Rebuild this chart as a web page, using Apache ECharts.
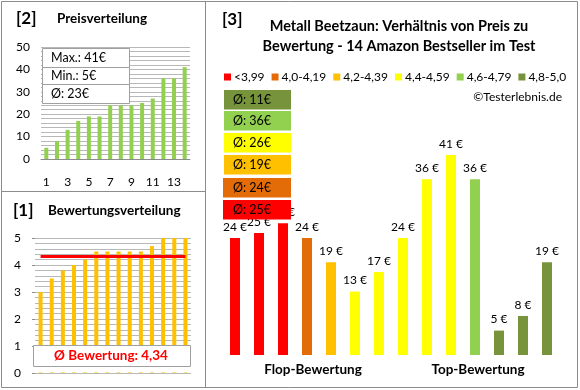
<!DOCTYPE html>
<html><head><meta charset="utf-8">
<script src="https://cdn.jsdelivr.net/npm/echarts@6/dist/echarts.min.js"></script>
<style>html,body{margin:0;padding:0;background:#fff}#c{width:580px;height:390px}</style>
</head><body><div id="c"></div>
<script>
// ---- data ----
const rankCats = ['1','2','3','4','5','6','7','8','9','10','11','12','13','14'];
const pricesSorted = [5, 8, 13, 17, 19, 19, 24, 24, 24, 25, 27, 36, 36, 41];
const ratingsSorted = [3.0, 3.5, 3.8, 4.0, 4.2, 4.5, 4.5, 4.5, 4.5, 4.5, 4.7, 5.0, 5.0, 5.0];
const ratingAvg = 4.34;
const priceInfo = ['Max.: 41€', 'Min.: 5€', 'Ø: 23€'];
const productPrices = [24, 25, 27, 24, 19, 13, 17, 24, 36, 41, 36, 5, 8, 19];
const productGroup = [0, 0, 0, 1, 2, 3, 3, 3, 3, 3, 4, 5, 5, 5];
const groupNames = ['<3,99', '4,0-4,19', '4,2-4,39', '4,4-4,59', '4,6-4,79', '4,8-5,0'];
const groupAvg = ['Ø: 25€', 'Ø: 24€', 'Ø: 19€', 'Ø: 26€', 'Ø: 36€', 'Ø: 11€'];
const groupColors = ['#FF0000', '#E36C09', '#FFC000', '#FFFF00', '#92D050', '#77933C'];

const FONT = 'Lato, "Liberation Sans", sans-serif';
const chart = echarts.init(document.getElementById('c'));
const gridColor = '#b8b8b8';

const groupSeries = groupNames.map((name, g) => ({
  name, type: 'bar', xAxisIndex: 2, yAxisIndex: 2, stack: 'p',
  barWidth: 10,
  itemStyle: { color: groupColors[g] },
  label: { show: true, position: 'top', distance: 5, formatter: '{c} €', color: '#000', fontSize: 12, fontFamily: FONT },
  data: productPrices.map((v, i) => productGroup[i] === g ? v : '-')
}));

const graphics = [];
// panel borders
graphics.push({ type: 'rect', shape: { x: 1.5, y: 1.5, width: 576, height: 386 }, style: { fill: 'none', stroke: '#8c8c8c', lineWidth: 1 }, z: 200 });
graphics.push({ type: 'line', shape: { x1: 205.5, y1: 1, x2: 205.5, y2: 388 }, style: { stroke: '#8c8c8c', lineWidth: 1 }, z: 200 });
graphics.push({ type: 'line', shape: { x1: 1, y1: 191.5, x2: 205, y2: 191.5 }, style: { stroke: '#8c8c8c', lineWidth: 1 }, z: 200 });
// titles
const tstyle = (t, x, y, size) => ({ type: 'text', x, y, z: 150, style: { text: t, font: 'bold ' + size + 'px ' + FONT, fill: '#000', textVerticalAlign: 'middle' } });
graphics.push(tstyle('[2]', 16, 19, 17));
graphics.push(tstyle('Preisverteilung', 57, 19, 13.5));
graphics.push(tstyle('[1]', 13, 211, 17));
graphics.push(tstyle('Bewertungsverteilung', 48, 211, 13.5));
graphics.push(tstyle('[3]', 222, 20, 17));
graphics.push({ type: 'text', x: 399, y: 26, z: 150, style: { text: 'Metall Beetzaun: Verhältnis von Preis zu', font: 'bold 14.5px ' + FONT, fill: '#000', textAlign: 'center', textVerticalAlign: 'middle' } });
graphics.push({ type: 'text', x: 399, y: 46, z: 150, style: { text: 'Bewertung - 14 Amazon Bestseller im Test', font: 'bold 14.5px ' + FONT, fill: '#000', textAlign: 'center', textVerticalAlign: 'middle' } });
graphics.push({ type: 'text', x: 562, y: 97, z: 150, style: { text: '©Testerlebnis.de', font: '12px ' + FONT, fill: '#000', textAlign: 'right', textVerticalAlign: 'middle' } });
graphics.push({ type: 'text', x: 313, y: 370, z: 150, style: { text: 'Flop-Bewertung', font: 'bold 13.5px ' + FONT, fill: '#000', textAlign: 'center', textVerticalAlign: 'middle' } });
graphics.push({ type: 'text', x: 478, y: 370, z: 150, style: { text: 'Top-Bewertung', font: 'bold 13.5px ' + FONT, fill: '#000', textAlign: 'center', textVerticalAlign: 'middle' } });
// price info box
graphics.push({ type: 'rect', z: 120, shape: { x: 42.5, y: 48.5, width: 87, height: 55 }, style: { fill: '#fff', stroke: '#a0a0a0', lineWidth: 1 } });
graphics.push({ type: 'line', z: 121, shape: { x1: 42.5, y1: 67.5, x2: 129.5, y2: 67.5 }, style: { stroke: '#a0a0a0', lineWidth: 1 } });
graphics.push({ type: 'line', z: 121, shape: { x1: 42.5, y1: 84.5, x2: 129.5, y2: 84.5 }, style: { stroke: '#a0a0a0', lineWidth: 1 } });
const infoY = [58, 76, 94];
priceInfo.forEach((t, i) => graphics.push({ type: 'text', z: 122, x: 51, y: infoY[i], style: { text: t, font: '12.5px ' + FONT, fill: '#000', textVerticalAlign: 'middle' } }));
// rating box
graphics.push({ type: 'rect', z: 119, shape: { x: 33, y: 366, width: 158, height: 6.5 }, style: { fill: '#fff' } });
graphics.push({ type: 'rect', z: 120, shape: { x: 33.5, y: 345.5, width: 157, height: 21 }, style: { fill: '#fff', stroke: '#a0a0a0', lineWidth: 1 } });
graphics.push({ type: 'text', z: 122, x: 111, y: 356, style: { text: 'Ø Bewertung: ' + String(ratingAvg).replace('.', ','), font: 'bold 13.5px ' + FONT, fill: '#FF0000', textAlign: 'center', textVerticalAlign: 'middle' } });
// group average boxes (top: best group)
const boxTops = [200, 178, 155, 133, 111, 90];
groupAvg.forEach((t, g) => {
  const wide = g <= 1;
  graphics.push({ type: 'rect', z: 130, shape: { x: wide ? 223 : 224, y: boxTops[g], width: wide ? 68 : 67, height: 19.5 }, style: { fill: groupColors[g] } });
  graphics.push({ type: 'text', z: 131, x: 233, y: boxTops[g] + 10, style: { text: t, font: '12.5px ' + FONT, fill: '#000', textVerticalAlign: 'middle' } });
});

chart.setOption({
  animation: false,
  textStyle: { fontFamily: FONT },
  grid: [
    { left: 41, top: 47, width: 149, height: 112 },
    { left: 35, top: 238, width: 156, height: 135 },
    { left: 223, top: 111, width: 336, height: 244 }
  ],
  legend: {
    data: groupNames, left: 224, top: 71, itemWidth: 7, itemHeight: 7, itemGap: 7, padding: 0,
    icon: 'rect', selectedMode: false,
    textStyle: { fontSize: 12, color: '#000', fontFamily: FONT, padding: [0, 0, 0, -2] }
  },
  xAxis: [
    { type: 'category', gridIndex: 0, data: rankCats,
      axisLine: { lineStyle: { color: '#8c8c8c' } }, axisTick: { show: false },
      axisLabel: { interval: 1, color: '#000', fontSize: 12, margin: 17 } },
    { type: 'category', gridIndex: 1, data: rankCats,
      axisLine: { show: false }, axisTick: { show: false }, axisLabel: { show: false } },
    { type: 'category', gridIndex: 2, data: rankCats, show: false }
  ],
  yAxis: [
    { type: 'value', gridIndex: 0, min: 0, max: 50, interval: 10,
      axisLine: { show: false }, axisTick: { show: false },
      axisLabel: { color: '#000', fontSize: 12, margin: 11 },
      splitLine: { lineStyle: { color: gridColor } },
      minorSplitLine: { show: true, lineStyle: { color: gridColor } }, minorTick: { show: false, splitNumber: 5 } },
    { type: 'value', gridIndex: 1, min: 0, max: 5, interval: 1,
      axisLine: { show: false }, axisTick: { show: true, length: 3, lineStyle: { color: '#8c8c8c' } },
      axisLabel: { color: '#000', fontSize: 12, margin: 14 },
      splitLine: { lineStyle: { color: gridColor } },
      minorSplitLine: { show: true, lineStyle: { color: gridColor } }, minorTick: { show: false, splitNumber: 5 } },
    { type: 'value', gridIndex: 2, min: 0, max: 50, show: false, splitLine: { show: false } }
  ],
  series: [
    { type: 'bar', xAxisIndex: 0, yAxisIndex: 0, barWidth: 4, itemStyle: { color: '#92D050' }, data: pricesSorted },
    { type: 'bar', xAxisIndex: 1, yAxisIndex: 1, barWidth: 4, itemStyle: { color: '#FFC000' }, data: ratingsSorted,
      markLine: { silent: true, symbol: 'none', label: { show: false },
        lineStyle: { color: '#FF0000', width: 3, type: 'solid' },
        data: [[{ coord: [0, ratingAvg] }, { coord: [13, ratingAvg] }]] } },
    ...groupSeries
  ],
  graphic: graphics
});
</script></body></html>
